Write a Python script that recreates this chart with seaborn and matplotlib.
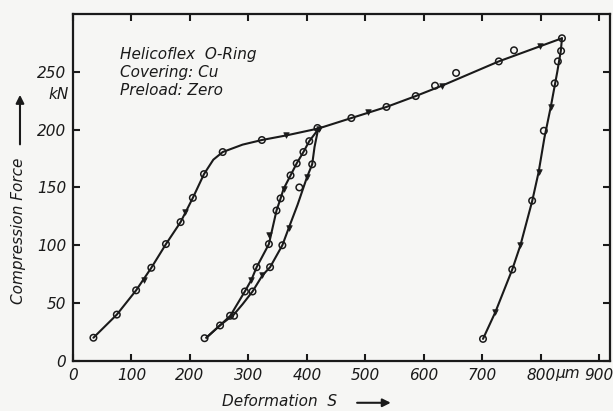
import matplotlib
matplotlib.use("Agg")
import matplotlib.pyplot as plt
import seaborn as sns
import pandas as pd

# ---- data ----
# curve lines (deformation in um, force in kN)
load1_x = [35, 75, 108, 134, 159, 184, 205, 224, 240, 256, 290, 323, 365, 420]
load1_y = [20, 40, 61, 80.5, 101, 120, 141, 161.5, 174, 180.6, 187, 191, 195, 201]
load2_x = [420, 476, 536, 586, 631, 728, 836]
load2_y = [201, 210, 219.6, 229, 238, 259, 279]
unload_outer_x = [836, 834, 828, 817, 806, 796, 785, 765, 751, 722, 701]
unload_outer_y = [279, 268, 250, 220, 193, 163, 138, 100, 79, 42, 19]
unload_inner_x = [419, 413, 409, 400, 384, 369, 358, 337, 324, 307, 290, 275, 252, 228]
unload_inner_y = [200, 185, 170, 158.7, 135, 115, 100, 81, 74, 60, 49, 40, 31, 20]
reload_x = [228, 252, 269, 295, 305, 314, 335, 348, 355, 360, 372, 382.5, 394, 404, 419]
reload_y = [20, 31, 39, 61, 70, 81, 101, 130, 140.5, 148.6, 160.4, 170.8, 180.6, 190, 200]

# measured points: circles
circ_x = [35, 75, 108, 134, 159, 184, 205, 224, 256, 323, 418, 476, 536, 586, 619, 655, 728, 754, 836,
          834.5, 829, 823.6, 805, 785, 751, 701,
          225, 251.5, 268.6, 275.5, 294, 314, 335, 348, 355, 372, 382.5, 394, 404,
          307, 337, 358, 387, 409]
circ_y = [20, 40, 61, 80.5, 101, 120, 141, 161.5, 180.6, 191, 201.4, 210, 219.6, 229, 238, 249, 259, 268.6, 279,
          268, 259, 240, 199, 138.5, 79, 19,
          19.6, 30.6, 39, 39, 60, 81, 101, 130, 140.5, 160.4, 170.8, 180.6, 190,
          60, 81, 100, 150, 170]
# measured points: triangles
tri_x = [121, 191, 365, 421, 505, 631, 798, 817, 796, 765, 722, 305, 336, 360, 324, 369, 400]
tri_y = [69.5, 129, 195, 200.6, 215, 238, 272, 219.6, 163, 100.4, 42, 70, 109, 148.6, 74, 115, 158.7]

x_ticks = [0, 100, 200, 300, 400, 500, 600, 700, 800, 900]
x_tick_labels = ["0", "100", "200", "300", "400", "500", "600", "700", "800", "900"]
y_ticks = [0, 50, 100, 150, 200, 250]
y_tick_labels = ["0", "50", "100", "150", "200", "250"]

sns.set_theme(style="ticks")
plt.rcParams["font.family"] = ["DejaVu Sans"]

INK = "#1a1a1a"
BG = "#f6f6f4"
fig = plt.figure(figsize=(6.13, 4.11), dpi=100, facecolor=BG)
ax = fig.add_axes([0.119, 0.122, 0.876, 0.844])
ax.set_facecolor(BG)

for xs, ys in [(load1_x, load1_y), (load2_x, load2_y), (unload_outer_x, unload_outer_y),
               (unload_inner_x, unload_inner_y), (reload_x, reload_y)]:
    sns.lineplot(x=xs, y=ys, sort=False, estimator=None, color=INK, linewidth=1.5, ax=ax)

sns.scatterplot(x=circ_x, y=circ_y, marker="o", s=22, facecolor="none",
                edgecolor=INK, linewidth=1.1, ax=ax, zorder=5)
sns.scatterplot(x=tri_x, y=tri_y, marker="v", s=16, color=INK,
                edgecolor=INK, linewidth=0.5, ax=ax, zorder=5)

ax.set_xlim(0, 918)
ax.set_ylim(0, 300)
ax.set_xticks(x_ticks)
ax.set_xticklabels(x_tick_labels, fontsize=11, fontstyle="italic", color=INK)
ax.set_yticks(y_ticks)
ax.set_yticklabels(y_tick_labels, fontsize=11, fontstyle="italic", color=INK)
ax.tick_params(direction="in", length=5, width=1.5, top=True, right=True, colors=INK,
               labelcolor=INK, pad=5)
for sp in ax.spines.values():
    sp.set_linewidth(1.6)
    sp.set_color(INK)

# unit labels
ax.text(825, -4.3, "µm", fontsize=11, fontstyle="italic", color=INK,
        ha="left", va="top", clip_on=False)
ax.text(-8, 230, "kN", fontsize=11, fontstyle="italic", color=INK,
        ha="right", va="center", clip_on=False)

ax.text(0.0875, 0.905, "Helicoflex  O-Ring\nCovering: Cu\nPreload: Zero", transform=ax.transAxes,
        fontsize=11, fontstyle="italic", color=INK, ha="left", va="top", linespacing=1.25)

# axis labels with arrows
fig.text(0.362, 0.022, "Deformation  S", fontsize=11, fontstyle="italic", color=INK,
         ha="left", va="center")
ax.annotate("", xy=(0.642, 0.02), xytext=(0.578, 0.02), xycoords="figure fraction",
            arrowprops=dict(arrowstyle="-|>", color=INK, lw=1.5, mutation_scale=12))
fig.text(0.03, 0.26, "Compression Force", fontsize=11, fontstyle="italic", color=INK,
         ha="center", va="bottom", rotation=90)
ax.annotate("", xy=(0.0326, 0.776), xytext=(0.0326, 0.642), xycoords="figure fraction",
            arrowprops=dict(arrowstyle="-|>", color=INK, lw=1.5, mutation_scale=12))

fig.savefig("out.png", dpi=100, facecolor=fig.get_facecolor())
